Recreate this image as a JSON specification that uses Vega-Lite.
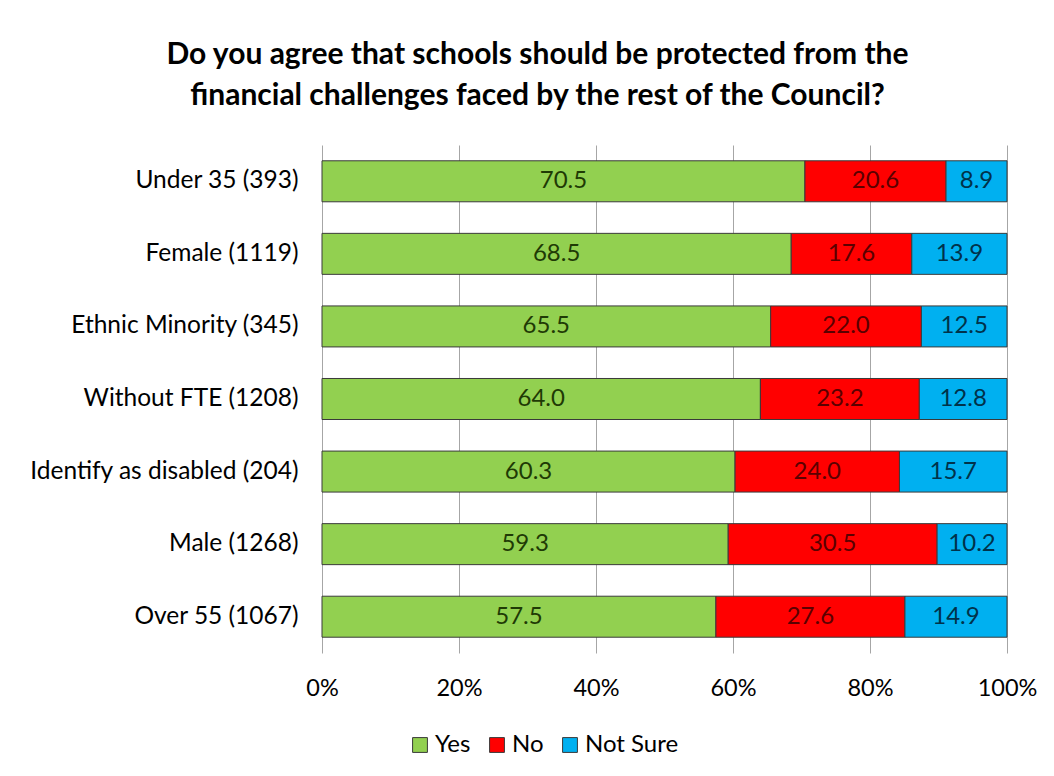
{
  "$schema": "https://vega.github.io/schema/vega-lite/v6.json",
  "autosize": {"type": "none"},
  "width": 685,
  "height": 508,
  "padding": {"left": 322, "top": 145, "right": 47, "bottom": 123},
  "background": "white",
  "title": {
    "text": ["Do you agree that schools should be protected from the", "financial challenges faced by the rest of the Council?"],
    "font": "Lato",
    "fontSize": 30,
    "fontWeight": "bold",
    "color": "#000000",
    "lineHeight": 41,
    "anchor": "middle",
    "dx": -127,
    "offset": 34
  },
  "data": {
    "values": [
      {"group": "Under 35 (393)", "response": "Yes", "k": 1, "value": 70.5},
      {"group": "Under 35 (393)", "response": "No", "k": 2, "value": 20.6},
      {"group": "Under 35 (393)", "response": "Not Sure", "k": 3, "value": 8.9},
      {"group": "Female (1119)", "response": "Yes", "k": 1, "value": 68.5},
      {"group": "Female (1119)", "response": "No", "k": 2, "value": 17.6},
      {"group": "Female (1119)", "response": "Not Sure", "k": 3, "value": 13.9},
      {"group": "Ethnic Minority (345)", "response": "Yes", "k": 1, "value": 65.5},
      {"group": "Ethnic Minority (345)", "response": "No", "k": 2, "value": 22.0},
      {"group": "Ethnic Minority (345)", "response": "Not Sure", "k": 3, "value": 12.5},
      {"group": "Without FTE (1208)", "response": "Yes", "k": 1, "value": 64.0},
      {"group": "Without FTE (1208)", "response": "No", "k": 2, "value": 23.2},
      {"group": "Without FTE (1208)", "response": "Not Sure", "k": 3, "value": 12.8},
      {"group": "Identify as disabled (204)", "response": "Yes", "k": 1, "value": 60.3},
      {"group": "Identify as disabled (204)", "response": "No", "k": 2, "value": 24.0},
      {"group": "Identify as disabled (204)", "response": "Not Sure", "k": 3, "value": 15.7},
      {"group": "Male (1268)", "response": "Yes", "k": 1, "value": 59.3},
      {"group": "Male (1268)", "response": "No", "k": 2, "value": 30.5},
      {"group": "Male (1268)", "response": "Not Sure", "k": 3, "value": 10.2},
      {"group": "Over 55 (1067)", "response": "Yes", "k": 1, "value": 57.5},
      {"group": "Over 55 (1067)", "response": "No", "k": 2, "value": 27.6},
      {"group": "Over 55 (1067)", "response": "Not Sure", "k": 3, "value": 14.9}
    ]
  },
  "encoding": {
    "y": {
      "field": "group",
      "type": "nominal",
      "sort": null,
      "scale": {"paddingInner": 0.435, "paddingOuter": 0.2175},
      "axis": {
        "title": null,
        "ticks": false,
        "domain": false,
        "labelFont": "Lato",
        "labelFontSize": 24.5,
        "labelColor": "#000000",
        "labelPadding": 24,
        "labelLimit": 320
      }
    },
    "order": {"field": "k", "type": "quantitative"}
  },
  "layer": [
    {
      "mark": {"type": "bar", "stroke": "#3a3a3a", "strokeWidth": 1},
      "encoding": {
        "x": {
          "field": "value",
          "type": "quantitative",
          "stack": "normalize",
          "scale": {"domain": [0, 1]},
          "axis": {
            "title": null,
            "format": ".0%",
            "values": [0, 0.2, 0.4, 0.6, 0.8, 1],
            "grid": true,
            "gridColor": "#a6a6a6",
            "gridWidth": 1,
            "ticks": false,
            "domain": false,
            "labelFont": "Lato",
            "labelFontSize": 23.5,
            "labelColor": "#000000",
            "labelPadding": 23,
            "labelFlush": false
          }
        },
        "color": {
          "field": "response",
          "type": "nominal",
          "scale": {"domain": ["Yes", "No", "Not Sure"], "range": ["#92d050", "#ff0000", "#00b0f0"]},
          "legend": {
            "title": null,
            "orient": "none",
            "direction": "horizontal",
            "legendX": 86,
            "legendY": 588,
            "symbolType": "square",
            "symbolSize": 220,
            "symbolStrokeColor": "#3a3a3a",
            "symbolStrokeWidth": 1,
            "symbolOpacity": 1,
            "labelFont": "Lato",
            "labelFontSize": 24,
            "labelColor": "#000000",
            "labelOffset": 3,
            "columnPadding": 14
          }
        }
      }
    },
    {
      "mark": {"type": "text", "font": "Lato", "fontSize": 24, "baseline": "middle", "align": "center"},
      "encoding": {
        "x": {"field": "value", "type": "quantitative", "stack": "normalize", "bandPosition": 0.5},
        "text": {"field": "value", "type": "quantitative", "format": ".1f"},
        "color": {
          "field": "response",
          "type": "nominal",
          "scale": {"domain": ["Yes", "No", "Not Sure"], "range": ["#1f3a05", "#5a0000", "#00324a"]},
          "legend": null
        }
      }
    }
  ],
  "resolve": {"scale": {"color": "independent"}},
  "config": {"view": {"stroke": null}}
}
